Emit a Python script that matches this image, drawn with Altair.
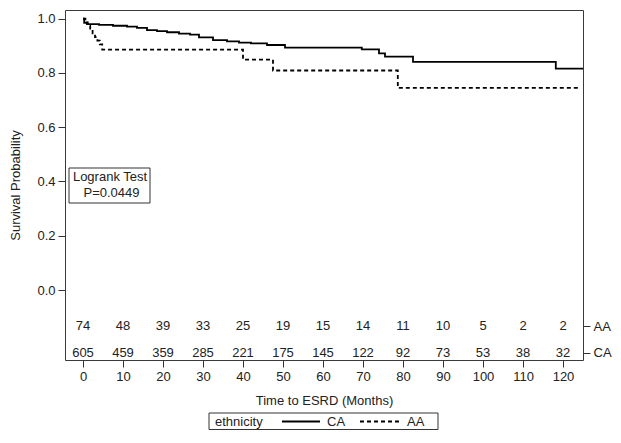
import altair as alt
import pandas as pd

# Kaplan-Meier step points
ca_time = [0, 0.3, 1, 4, 7.5, 11, 13.5, 16, 18.5, 21, 24, 26.75, 29, 32.5, 36, 39, 42, 46, 50.5, 69.7, 74, 75.5, 82.5, 118.2, 125]
ca_surv = [1.0, 0.985, 0.980, 0.977, 0.974, 0.971, 0.966, 0.958, 0.954, 0.950, 0.945, 0.941, 0.931, 0.921, 0.916, 0.912, 0.909, 0.903, 0.893, 0.887, 0.872, 0.860, 0.841, 0.816, 0.816]

aa_time = [0, 0.6, 1.2, 1.8, 2.4, 3.0, 3.6, 4.2, 4.8, 40, 47.5, 78.7, 124]
aa_surv = [1.0, 0.986, 0.973, 0.959, 0.946, 0.932, 0.919, 0.905, 0.886, 0.849, 0.809, 0.745, 0.745]

# numbers at risk
risk_time = [0, 10, 20, 30, 40, 50, 60, 70, 80, 90, 100, 110, 120]
risk_aa = [74, 48, 39, 33, 25, 19, 15, 14, 11, 10, 5, 2, 2]
risk_ca = [605, 459, 359, 285, 221, 175, 145, 122, 92, 73, 53, 38, 32]

groups = ["CA", "AA"]
x_ticks = list(range(0, 121, 10))
y_ticks = [0.0, 0.2, 0.4, 0.6, 0.8, 1.0]

curves = pd.DataFrame(
    [{"time": t, "surv": s, "ethnicity": "CA"} for t, s in zip(ca_time, ca_surv)]
    + [{"time": t, "surv": s, "ethnicity": "AA"} for t, s in zip(aa_time, aa_surv)]
)
risk = pd.DataFrame(
    [{"time": t, "n": n, "grp": "AA"} for t, n in zip(risk_time, risk_aa)]
    + [{"time": t, "n": n, "grp": "CA"} for t, n in zip(risk_time, risk_ca)]
)

W, H = 518, 350
INK = "#222222"
FONT = "Liberation Sans"
xscale = alt.Scale(domain=[-4.5, 125], nice=False, zero=False)
xaxis = alt.Axis(values=x_ticks, title="Time to  ESRD (Months)", tickSize=7, labelPadding=3,
                 titlePadding=11, domain=False, grid=False)

lines = alt.Chart(curves).mark_line(interpolate="step-after", strokeWidth=1.8, color="black").encode(
    x=alt.X("time:Q", scale=xscale, axis=xaxis),
    y=alt.Y("surv:Q", scale=alt.Scale(domain=[-0.258, 1.032], nice=False, zero=False),
            axis=alt.Axis(values=y_ticks, format=".1f", title="Survival Probability", tickSize=7,
                          labelPadding=3, titlePadding=14, domain=False, grid=False)),
    strokeDash=alt.StrokeDash("ethnicity:N",
                              scale=alt.Scale(domain=groups, range=[[1, 0], [4, 3]]),
                              legend=None),
    detail="ethnicity:N",
)

table = alt.Chart(risk).mark_text(fontSize=13, color=INK).encode(
    x=alt.X("time:Q", scale=xscale, axis=xaxis),
    y=alt.Y("grp:N", scale=alt.Scale(type="point", domain=["AA", "CA"], range=[316, 342.6], padding=0),
            axis=alt.Axis(orient="right", title=None, tickSize=7, labelPadding=3, domain=False, grid=False)),
    text="n:Q",
)

one = pd.DataFrame({"k": [0]})
box = alt.Chart(one).mark_rect(fill="white", stroke="#333333", strokeWidth=1).encode(
    x=alt.value(4), x2=alt.value(85), y=alt.value(158), y2=alt.value(193)
)
t1 = alt.Chart(one).mark_text(text="Logrank Test", fontSize=13, color=INK, baseline="middle").encode(
    x=alt.value(45), y=alt.value(167)
)
t2 = alt.Chart(one).mark_text(text="P=0.0449", fontSize=13, color=INK, baseline="middle").encode(
    x=alt.value(46.5), y=alt.value(183)
)

# manual legend
leg_box = alt.Chart(one).mark_rect(fill="white", stroke="#333333", strokeWidth=1).encode(
    x=alt.value(144), x2=alt.value(373), y=alt.value(403), y2=alt.value(419.5)
)
leg_title = alt.Chart(one).mark_text(text="ethnicity", fontSize=13, color=INK, align="left",
                                     baseline="middle").encode(x=alt.value(150), y=alt.value(411.5))
leg_ca_line = alt.Chart(one).mark_rule(color="black", strokeWidth=2).encode(
    x=alt.value(217), x2=alt.value(255), y=alt.value(411.5))
leg_ca = alt.Chart(one).mark_text(text=groups[0], fontSize=13, color=INK, align="left",
                                  baseline="middle").encode(x=alt.value(262), y=alt.value(411.5))
leg_aa_line = alt.Chart(one).mark_rule(color="black", strokeWidth=2, strokeDash=[4, 3]).encode(
    x=alt.value(295), x2=alt.value(335), y=alt.value(411.5))
leg_aa = alt.Chart(one).mark_text(text=groups[1], fontSize=13, color=INK, align="left",
                                  baseline="middle").encode(x=alt.value(342), y=alt.value(411.5))

chart = alt.layer(lines, table, box, t1, t2, leg_box, leg_title, leg_ca_line, leg_ca,
                  leg_aa_line, leg_aa).resolve_scale(y="independent").properties(
    width=W, height=H,
    autosize=alt.AutoSizeParams(type="none"),
    padding={"left": 57, "top": 2, "right": 30, "bottom": 70},
).configure(font=FONT).configure_view(
    stroke="#3a3a3a", strokeWidth=1
).configure_axis(
    labelFont=FONT, titleFont=FONT, labelFontSize=13, titleFontSize=13,
    labelColor=INK, titleColor=INK, tickColor="#333333", titleFontWeight="normal"
)

chart.save("out.html", embed_options={"renderer": "svg", "actions": False})
